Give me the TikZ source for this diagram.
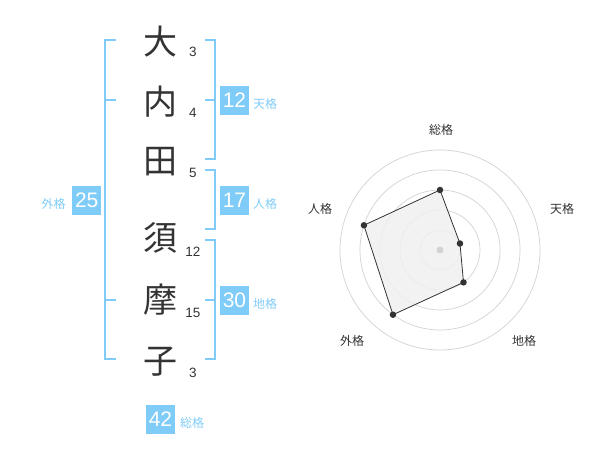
\documentclass[tikz,border=0pt]{standalone}
\usepackage{fontspec}
\setmainfont{Liberation Sans}
\newfontfamily\jp{Noto Sans CJK JP}
\definecolor{kakublue}{RGB}{128,204,248}
\definecolor{kakudark}{RGB}{51,51,51}
\definecolor{ringgray}{RGB}{210,210,210}
\definecolor{areagray}{RGB}{240,240,240}

\begin{document}
\begin{tikzpicture}[x=1pt,y=-1pt,
    kanji/.style={font=\jp\fontsize{34}{34}\selectfont,text=kakudark,inner sep=0pt},
    strokes/.style={font=\fontsize{13.5}{13.5}\selectfont,text=kakudark,inner sep=0pt},
    kakubox/.style={fill=kakublue,text=white,minimum width=29pt,minimum height=29pt,inner sep=0pt,font=\fontsize{21}{21}\selectfont},
    kakuname/.style={font=\jp\fontsize{12}{12}\selectfont,text=kakublue,inner sep=0pt,anchor=west},
    bracket/.style={draw=kakublue,line width=2pt},
    radarname/.style={font=\jp\fontsize{12}{12}\selectfont,text=kakudark,inner sep=0pt},
    vertex/.style={circle,fill=kakudark,inner sep=0pt,minimum size=6.5pt}]
    \useasboundingbox (0,0) rectangle (600,470);

    % name, one character per line
    \node[kanji] (dai) at (160,42) {大};
    \node[kanji] (uchi) at (160,102) {内};
    \node[kanji] (ta) at (160,162) {田};
    \node[kanji] (su) at (160,238) {須};
    \node[kanji] (ma) at (160,300) {摩};
    \node[kanji] (ko) at (160,362) {子};
    \node[strokes] (s1) at (193,52) {3};
    \node[strokes] (s2) at (193,113) {4};
    \node[strokes] (s3) at (193,173) {5};
    \node[strokes] (s4) at (193,252) {12};
    \node[strokes] (s5) at (193,313) {15};
    \node[strokes] (s6) at (193,373) {3};

    % brackets
    \draw[bracket] (116,40) -- (105,40) -- (105,359.5) -- (116,359.5);
    \draw[bracket] (105,100) -- (116,100);
    \draw[bracket] (105,300) -- (116,300);
    \draw[bracket] (205,40) -- (214.5,40) -- (214.5,159.5) -- (205,159.5);
    \draw[bracket] (205,100) -- (214.5,100);
    \draw[bracket] (205,170) -- (214.5,170) -- (214.5,229.5) -- (205,229.5);
    \draw[bracket] (205,240) -- (214.5,240) -- (214.5,359.5) -- (205,359.5);
    \draw[bracket] (205,300) -- (214.5,300);

    % the five values
    \node[kakubox] (ten) at (234.5,100.3) {12};
    \node[kakuname] at (253,104) {天格};
    \node[kakubox] (jin) at (234.5,200.3) {17};
    \node[kakuname] at (253,204) {人格};
    \node[kakubox] (chi) at (234.5,300.3) {30};
    \node[kakuname] at (253,304) {地格};
    \node[kakubox] (gai) at (86.7,200.3) {25};
    \node[kakuname] at (41.5,203.5) {外格};
    \node[kakubox] (sou) at (160.5,419) {42};
    \node[kakuname] at (180,422.5) {総格};

    % radar chart
    \coordinate (c) at (440,250);
    \foreach \r in {20,40,60,80,100}
        \draw[ringgray,line width=0.7pt] (c) circle (\r pt);
    \coordinate (psou) at ([shift={(90:60pt)}]c);
    \coordinate (pten) at ([shift={(18:21pt)}]c);
    \coordinate (pchi) at ([shift={(-54:40pt)}]c);
    \coordinate (pgai) at ([shift={(-126:80pt)}]c);
    \coordinate (pjin) at ([shift={(162:80pt)}]c);
    \filldraw[fill=areagray,fill opacity=0.85,draw=kakudark,line width=0.8pt]
        (psou) -- (pten) -- (pchi) -- (pgai) -- (pjin) -- cycle;
    \fill[ringgray] (c) circle (3.5pt);
    \foreach \p in {psou,pten,pchi,pgai,pjin}
        \node[vertex] at (\p) {};
    \node[radarname] (lsou) at (441,130) {総格};
    \node[radarname] (lten) at (562,208.5) {天格};
    \node[radarname] (lchi) at (524,341) {地格};
    \node[radarname] (lgai) at (352,341) {外格};
    \node[radarname] (ljin) at (320,208.5) {人格};
\end{tikzpicture}
\end{document}
